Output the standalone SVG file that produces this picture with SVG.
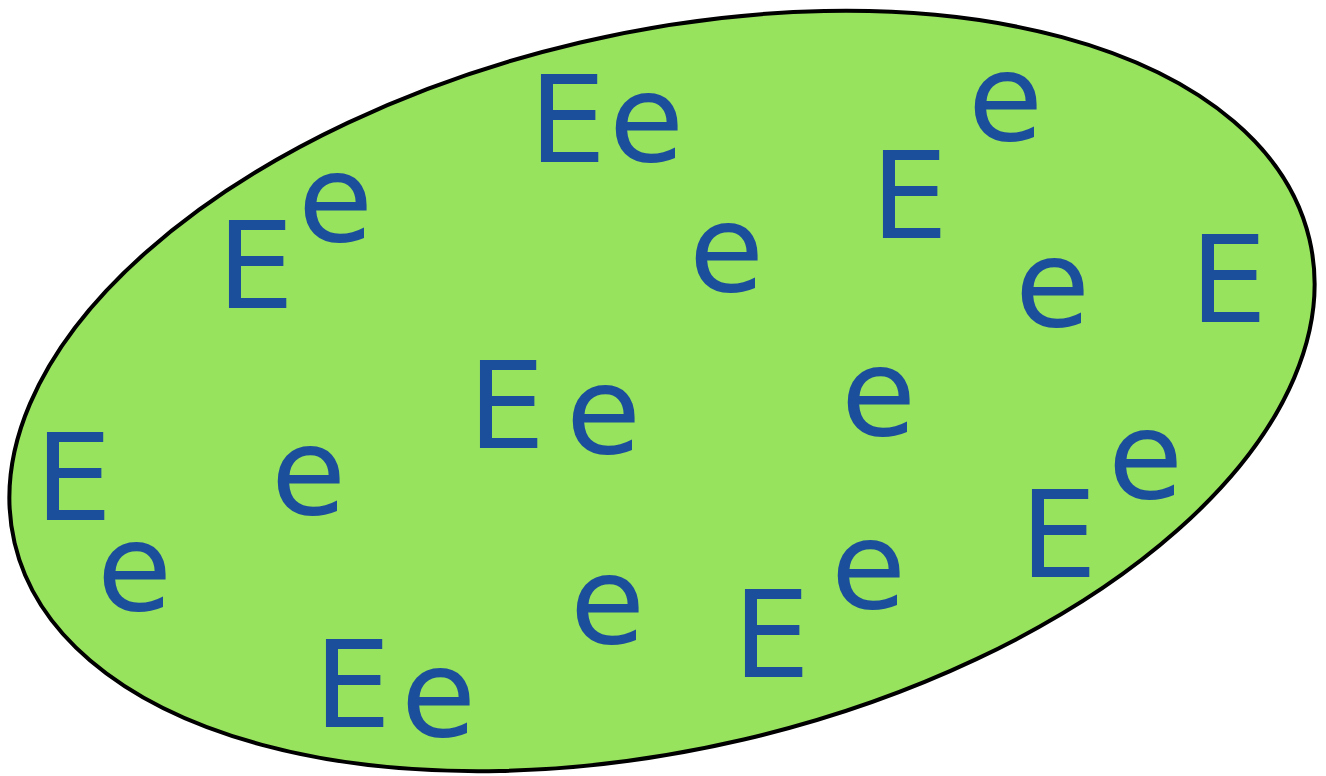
<svg xmlns="http://www.w3.org/2000/svg" width="1326" height="776" viewBox="0 0 1326 776">
<style>
.l{font-family:"DejaVu Sans","Verdana",sans-serif;font-size:122px;fill:#1b4f9b}
</style>
<rect width="1326" height="776" fill="#ffffff"/>
<ellipse id="set" cx="662" cy="391" rx="665" ry="358" transform="rotate(-13.2 662 391)" fill="#97e35d" stroke="#000000" stroke-width="4"/>
<g id="letters">
<text class="l" x="529" y="162">E</text>
<text class="l" x="217" y="308">E</text>
<text class="l" x="871" y="238">E</text>
<text class="l" x="1190" y="322">E</text>
<text class="l" x="468" y="448">E</text>
<text class="l" x="35" y="520">E</text>
<text class="l" x="733" y="677">E</text>
<text class="l" x="1020" y="577">E</text>
<text class="l" x="314" y="727">E</text>
<text class="l" x="609" y="161">e</text>
<text class="l" x="298" y="241">e</text>
<text class="l" x="968" y="140">e</text>
<text class="l" x="689" y="291">e</text>
<text class="l" x="1015" y="326">e</text>
<text class="l" x="566" y="453">e</text>
<text class="l" x="841" y="435">e</text>
<text class="l" x="97" y="610">e</text>
<text class="l" x="271" y="514">e</text>
<text class="l" x="570" y="643">e</text>
<text class="l" x="831" y="608">e</text>
<text class="l" x="1108" y="498">e</text>
<text class="l" x="401" y="736">e</text>
</g>
</svg>
